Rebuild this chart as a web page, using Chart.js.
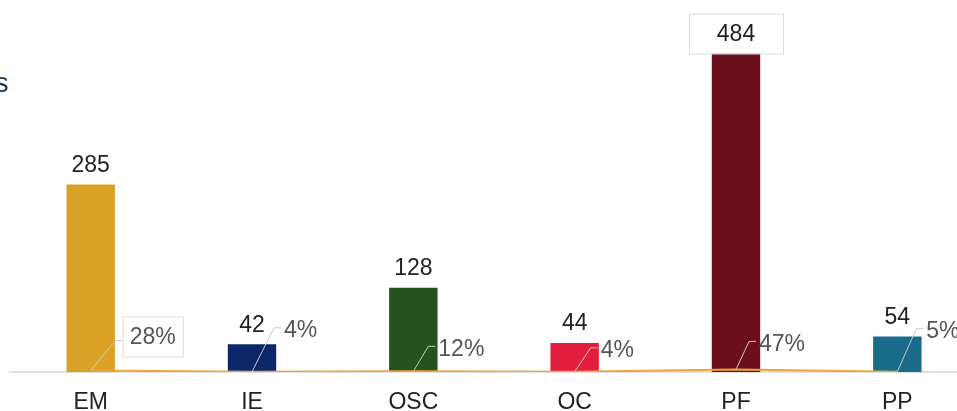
<!DOCTYPE html>
<html lang="pt">

<head>
  <meta charset="UTF-8">
  <title>Categorias</title>
  <script src="https://cdn.jsdelivr.net/npm/chart.js"></script>
  <style>
    html, body { margin: 0; padding: 0; background: #fff; overflow: hidden; }
    .box-grafico { position: absolute; left: 0; top: 0; width: 990px; height: 411px; }
  </style>
</head>

<body>
  <div class="box-grafico">
    <canvas id="gf1" width="990" height="411"></canvas>
  </div>

<script>
  // dados
  const categorias = ['EM', 'IE', 'OSC', 'OC', 'PF', 'PP']
  const quantidades = [285, 42, 128, 44, 484, 54]
  const percentuais = [28, 4, 12, 4, 47, 5]
  const coresBarras = ['#dba126', '#0c2769', '#25521f', '#e21d3d', '#6c0f1d', '#1a6b8a']

  // deslocamento das linhas-guia dos percentuais (x, y)
  const guias = [[25, -30], [22, -44], [15, -25], [16, -24], [13, -28], [19, -43]]
  const comCaixaValor = [false, false, false, false, true, false]
  const comCaixaPct = [true, false, false, false, false, false]

  const fonte = '23px "Liberation Sans", Arial, sans-serif'

  const rotulos = {
    id: 'rotulos',
    afterDraw(chart) {
      const ctx = chart.ctx
      const barras = chart.getDatasetMeta(0).data
      const pontos = chart.getDatasetMeta(1).data
      ctx.save()
      ctx.font = fonte
      ctx.textBaseline = 'middle'

      // valores acima das barras
      ctx.textAlign = 'center'
      barras.forEach(function (barra, i) {
        const y = barra.y - 20
        if (comCaixaValor[i]) {
          ctx.fillStyle = '#fff'
          ctx.fillRect(barra.x - 47, y - 20, 94, 40)
          ctx.strokeStyle = '#dcdcdc'
          ctx.lineWidth = 1
          ctx.strokeRect(barra.x - 47 + 0.5, y - 20 + 0.5, 94, 40)
        }
        ctx.fillStyle = '#222'
        ctx.fillText(String(quantidades[i]), barra.x, y + 1)
      })

      // percentuais com linha-guia
      ctx.textAlign = 'left'
      pontos.forEach(function (p, i) {
        const x1 = p.x + guias[i][0]
        const y1 = p.y + guias[i][1]
        ctx.strokeStyle = '#c9c9c9'
        ctx.lineWidth = 1
        ctx.beginPath()
        ctx.moveTo(p.x, p.y)
        ctx.lineTo(x1, y1)
        ctx.lineTo(x1 + 7, y1)
        ctx.stroke()
        const texto = percentuais[i] + '%'
        if (comCaixaPct[i]) {
          const w = ctx.measureText(texto).width + 14
          ctx.fillStyle = '#fff'
          ctx.fillRect(x1 + 7, y1 - 24, w, 40)
          ctx.strokeStyle = '#dcdcdc'
          ctx.strokeRect(x1 + 7.5, y1 - 23.5, w, 40)
          ctx.fillStyle = '#555'
          ctx.fillText(texto, x1 + 14, y1 - 3)
        } else {
          ctx.fillStyle = '#555'
          ctx.fillText(texto, x1 + 10, y1 + 3)
        }
      })

      // fim de um titulo cortado na borda esquerda
      ctx.fillStyle = '#1e3552'
      ctx.font = '27px "Liberation Sans", Arial, sans-serif'
      ctx.fillText('s', -5, 85)
      ctx.restore()
    }
  }

  const ctx = document.getElementById('gf1').getContext('2d')

  new Chart(ctx, {
    data: {
      labels: categorias,
      datasets: [{
        type: 'bar',
        data: quantidades,
        backgroundColor: coresBarras,
        barPercentage: 0.6,
        categoryPercentage: 0.5,
        yAxisID: 'y',
        order: 1
      }, {
        type: 'line',
        data: percentuais,
        borderColor: '#f0a53a',
        borderWidth: 2,
        pointRadius: 0,
        tension: 0,
        yAxisID: 'y1',
        order: 0
      }]
    },
    options: {
      responsive: false,
      animation: false,
      layout: { padding: { left: 10, right: 12, top: 43, bottom: 0 } },
      plugins: {
        legend: { display: false },
        tooltip: { enabled: false }
      },
      scales: {
        x: {
          grid: { display: false, drawTicks: false },
          border: { display: true, color: '#e0e0e0', width: 2 },
          ticks: {
            padding: 17,
            color: '#222',
            font: { size: 23, family: '"Liberation Sans", Arial, sans-serif' }
          },
          afterFit(scale) { scale.height = 39 }
        },
        y: { display: false, min: 0, max: 500 },
        y1: { display: false, min: 0, max: 6000 }
      }
    },
    plugins: [rotulos]
  })
</script>
</body>

</html>
